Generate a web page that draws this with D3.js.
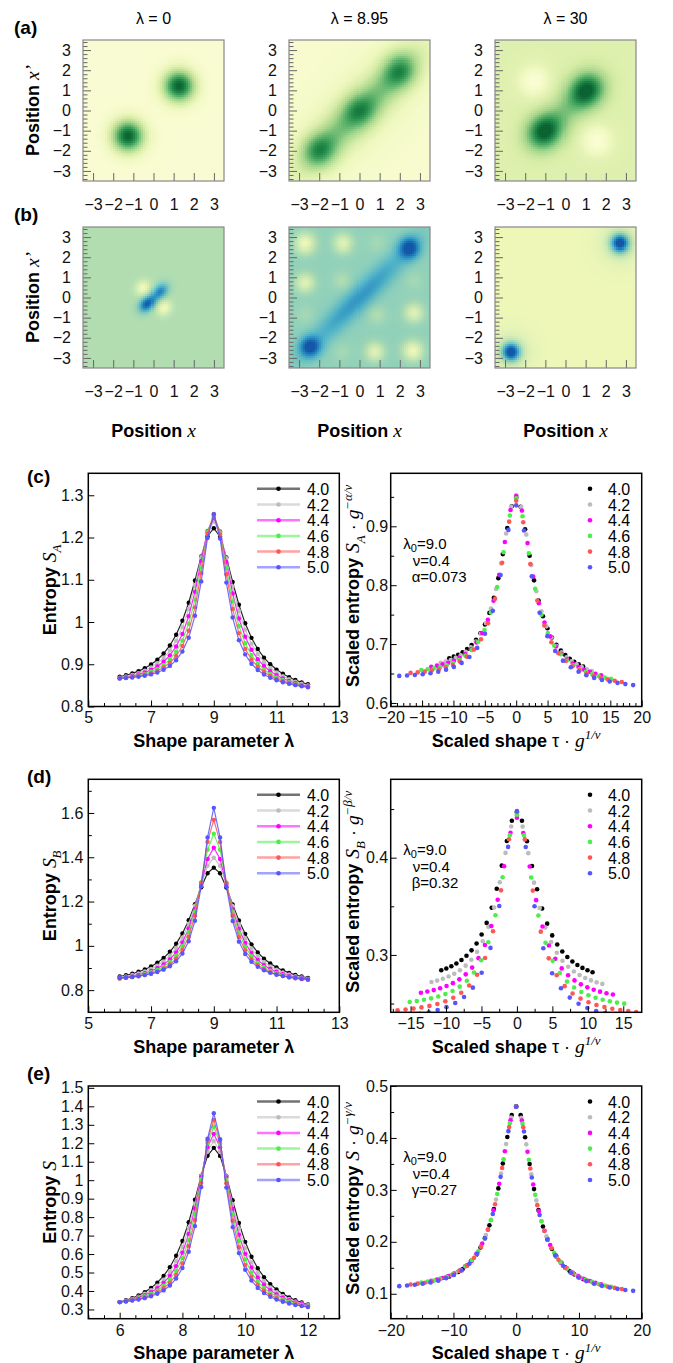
<!DOCTYPE html>
<html><head><meta charset="utf-8">
<script src="https://cdn.jsdelivr.net/npm/d3@7"></script>
<style>body{margin:0;background:#fff;}svg{display:block;}</style>
</head><body>
<svg id="fig" width="673" height="1363"></svg>
<script>
// ---------------- DATA ----------------
const heatTitles = ["λ = 0", "λ = 8.95", "λ = 30"];
const heatTicks = [-3, -2, -1, 0, 1, 2, 3];
// density maps: background level + blobs [x, x', width along diagonal, width across diagonal, height]
const rhoBase = [0.03, 0.05, 0.25];
const rhoBlobs = [
  [[1.25, 1.25, 0.58, 0.58, 0.97], [-1.25, -1.25, 0.58, 0.58, 0.97]],
  [[0, 0, 2.7, 0.65, 0.45], [-2, -2, 0.62, 0.6, 0.48], [0, 0, 0.55, 0.55, 0.28], [2, 2, 0.62, 0.6, 0.48], [0, 0, 3.6, 1.4, 0.14]],
  [[1.05, 1.05, 0.66, 0.6, 0.7], [-1.05, -1.05, 0.66, 0.6, 0.7], [0, 0, 1.2, 0.55, 0.25],
   [-1.55, 1.5, 0.5, 0.5, -0.24], [1.55, -1.5, 0.5, 0.5, -0.24]]
];
const corrBase = [0.42, 0.52, 0.12];
const corrBlobs = [
  [[-0.3, -0.3, 0.33, 0.24, 0.56], [0.32, 0.32, 0.33, 0.24, 0.42], [-0.5, 0.5, 0.28, 0.25, -0.32], [0.5, -0.5, 0.28, 0.25, -0.32]],
  [[0, 0, 2.6, 0.42, 0.27], [2.47, 2.47, 0.36, 0.36, 0.46], [-2.45, -2.45, 0.36, 0.36, 0.46],
   [-2.7, 2.7, 0.34, 0.34, -0.4], [-2.7, 0.75, 0.32, 0.32, -0.32], [-0.8, 2.7, 0.32, 0.32, -0.32],
   [2.7, -0.75, 0.32, 0.32, -0.32], [0.75, -2.7, 0.32, 0.32, -0.32], [2.65, -2.65, 0.34, 0.34, -0.4],
   [-0.85, 0.85, 0.32, 0.32, -0.1], [0.85, -0.85, 0.32, 0.32, -0.1],
   [-2.7, -0.85, 0.32, 0.32, -0.06], [-0.85, -2.7, 0.32, 0.32, -0.06], [0.85, 2.7, 0.32, 0.32, -0.06], [2.7, 0.85, 0.32, 0.32, -0.06]],
  [[2.7, 2.7, 0.35, 0.35, 0.85], [-2.7, -2.7, 0.35, 0.35, 0.85], [2.7, 2.7, 0.8, 0.8, 0.12], [-2.7, -2.7, 0.8, 0.8, 0.12]]
];
const rhoStops = [0, 0.15, 0.3, 0.5, 0.7, 0.85, 1];
const rhoColors = ["#fcfdd6", "#eff8c0", "#d6eca6", "#a2d48b", "#52ad66", "#228a49", "#0b6332"];
const corrStops = [0, 0.12, 0.3, 0.42, 0.55, 0.7, 0.85, 1];
const corrColors = ["#fdfed9", "#eef7b8", "#cbe9b4", "#b1ddb1", "#88cdbc", "#4fb2c8", "#2385bf", "#1457a6"];

const gLabels = ["4.0", "4.2", "4.4", "4.6", "4.8", "5.0"];
const gValues = [4.0, 4.2, 4.4, 4.6, 4.8, 5.0];
const seriesColors = ["#000000", "#bcbcbc", "#ff00ff", "#4cee4c", "#ff5656", "#5656ff"];
const lambdaValues = [6.0,6.2,6.4,6.6,6.8,7.0,7.2,7.4,7.6,7.8,8.0,8.2,8.4,8.6,8.8,9.0,9.2,9.4,9.6,9.8,10.0,10.2,10.4,10.6,10.8,11.0,11.2,11.4,11.6,11.8,12.0];
const SA = [
  [0.8705,0.8740,0.8783,0.8838,0.8907,0.8994,0.9107,0.9253,0.9445,0.9697,1.0029,1.0457,1.0983,1.1552,1.2031,1.2220,1.2019,1.1528,1.0947,1.0409,0.9969,0.9625,0.9361,0.9157,0.8999,0.8874,0.8775,0.8694,0.8627,0.8572,0.8525],
  [0.8681,0.8709,0.8745,0.8791,0.8849,0.8924,0.9022,0.9151,0.9324,0.9559,0.9879,1.0311,1.0875,1.1536,1.2131,1.2380,1.2119,1.1512,1.0839,1.0263,0.9819,0.9487,0.9240,0.9055,0.8914,0.8804,0.8717,0.8647,0.8589,0.8541,0.8501],
  [0.8670,0.8693,0.8721,0.8757,0.8804,0.8867,0.8949,0.9059,0.9211,0.9420,0.9716,1.0136,1.0714,1.1446,1.2156,1.2470,1.2144,1.1420,1.0676,1.0084,0.9652,0.9344,0.9121,0.8957,0.8833,0.8739,0.8664,0.8603,0.8555,0.8513,0.8478],
  [0.8665,0.8682,0.8704,0.8733,0.8772,0.8822,0.8890,0.8983,0.9113,0.9297,0.9564,0.9957,1.0529,1.1309,1.2131,1.2520,1.2117,1.1283,1.0489,0.9905,0.9498,0.9217,0.9021,0.8877,0.8772,0.8690,0.8626,0.8575,0.8532,0.8498,0.8467],
  [0.8668,0.8680,0.8697,0.8720,0.8750,0.8791,0.8847,0.8925,0.9036,0.9195,0.9431,0.9792,1.0347,1.1157,1.2088,1.2560,1.2074,1.1129,1.0307,0.9738,0.9363,0.9113,0.8940,0.8817,0.8725,0.8655,0.8600,0.8556,0.8521,0.8490,0.8464],
  [0.8665,0.8674,0.8687,0.8704,0.8727,0.8760,0.8806,0.8870,0.8961,0.9096,0.9303,0.9626,1.0147,1.0961,1.1991,1.2550,1.1977,1.0933,1.0105,0.9570,0.9233,0.9012,0.8863,0.8758,0.8680,0.8620,0.8573,0.8536,0.8505,0.8478,0.8455]
];
const SB = [
  [0.8615,0.8671,0.8742,0.8829,0.8935,0.9068,0.9237,0.9452,0.9731,1.0093,1.0563,1.1159,1.1878,1.2644,1.3279,1.3530,1.3275,1.2636,1.1866,1.1143,1.0543,1.0069,0.9703,0.9420,0.9201,0.9028,0.8891,0.8781,0.8690,0.8615,0.8555],
  [0.8577,0.8624,0.8683,0.8755,0.8846,0.8960,0.9108,0.9300,0.9556,0.9900,1.0366,1.0995,1.1811,1.2763,1.3619,1.3980,1.3615,1.2755,1.1799,1.0979,1.0346,0.9876,0.9528,0.9268,0.9072,0.8920,0.8802,0.8707,0.8631,0.8568,0.8517],
  [0.8544,0.8584,0.8632,0.8692,0.8768,0.8865,0.8993,0.9161,0.9389,0.9706,1.0151,1.0785,1.1669,1.2799,1.3923,1.4430,1.3919,1.2791,1.1657,1.0769,1.0131,0.9682,0.9361,0.9129,0.8957,0.8825,0.8724,0.8644,0.8580,0.8528,0.8484],
  [0.8531,0.8564,0.8605,0.8656,0.8721,0.8805,0.8915,0.9064,0.9269,0.9560,0.9983,1.0613,1.1555,1.2876,1.4341,1.5060,1.4337,1.2868,1.1543,1.0597,0.9963,0.9536,0.9241,0.9032,0.8879,0.8765,0.8677,0.8608,0.8553,0.8508,0.8471],
  [0.8525,0.8553,0.8586,0.8629,0.8684,0.8755,0.8850,0.8979,0.9160,0.9421,0.9810,1.0414,1.1374,1.2851,1.4693,1.5690,1.4689,1.2843,1.1362,1.0398,0.9790,0.9397,0.9132,0.8947,0.8814,0.8715,0.8640,0.8581,0.8534,0.8497,0.8465],
  [0.8548,0.8570,0.8598,0.8633,0.8679,0.8738,0.8817,0.8926,0.9080,0.9306,0.9652,1.0206,1.1134,1.2693,1.4897,1.6230,1.4893,1.2685,1.1122,1.0190,0.9632,0.9282,0.9052,0.8894,0.8781,0.8698,0.8635,0.8585,0.8546,0.8514,0.8488]
];
const S = [
  [0.3400,0.3498,0.3615,0.3760,0.3940,0.4166,0.4452,0.4817,0.5290,0.5906,0.6705,0.7719,0.8941,1.0245,1.1323,1.1750,1.1315,1.0227,0.8915,0.7685,0.6661,0.5854,0.5230,0.4747,0.4374,0.4080,0.3844,0.3656,0.3503,0.3376,0.3270],
  [0.3400,0.3480,0.3576,0.3698,0.3850,0.4042,0.4290,0.4613,0.5040,0.5613,0.6383,0.7411,0.8726,1.0234,1.1566,1.2120,1.1556,1.0212,0.8694,0.7369,0.6329,0.5549,0.4966,0.4527,0.4194,0.3936,0.3732,0.3570,0.3438,0.3330,0.3240],
  [0.3400,0.3466,0.3547,0.3647,0.3776,0.3940,0.4154,0.4438,0.4820,0.5345,0.6076,0.7093,0.8475,1.0178,1.1801,1.2510,1.1789,1.0152,0.8437,0.7043,0.6012,0.5269,0.4732,0.4336,0.4040,0.3814,0.3636,0.3495,0.3383,0.3288,0.3210],
  [0.3400,0.3454,0.3520,0.3605,0.3713,0.3852,0.4036,0.4284,0.4622,0.5097,0.5778,0.6765,0.8179,1.0054,1.1991,1.2890,1.1977,1.0024,0.8135,0.6707,0.5704,0.5009,0.4520,0.4166,0.3904,0.3706,0.3551,0.3429,0.3330,0.3248,0.3180],
  [0.3400,0.3444,0.3497,0.3568,0.3658,0.3775,0.3934,0.4148,0.4445,0.4872,0.5497,0.6436,0.7851,0.9867,1.2136,1.3260,1.2120,0.9833,0.7801,0.6370,0.5413,0.4772,0.4329,0.4014,0.3784,0.3609,0.3474,0.3368,0.3281,0.3210,0.3150],
  [0.3399,0.3434,0.3479,0.3537,0.3613,0.3713,0.3848,0.4033,0.4295,0.4673,0.5242,0.6123,0.7515,0.9635,1.2241,1.3630,1.2223,0.9599,0.7461,0.6051,0.5152,0.4565,0.4169,0.3889,0.3686,0.3533,0.3415,0.3321,0.3245,0.3182,0.3129]
];
const lambda0 = 9.0, nu = 0.4;
const exponents = [0.073, 0.32, 0.27];          // α, β, γ
const exponentNames = ["α", "β", "γ"];

// ---------------- DRAWING ----------------
const FONT = '"Liberation Sans", Arial, Helvetica, sans-serif';
const SERIF = '"Liberation Serif", "Times New Roman", serif';
const svg = d3.select("#fig").attr("font-family", FONT);

function rich(parent, x, y, parts, o = {}) {
  const size = o.size || 18;
  const t = parent.append("text").attr("x", x).attr("y", y)
    .attr("font-size", size).attr("font-weight", o.weight || "bold")
    .attr("text-anchor", o.anchor || "middle").attr("fill", "#000");
  if (o.rotate) t.attr("transform", `rotate(-90 ${x} ${y})`);
  let shift = 0;
  parts.forEach(p => {
    const target = p.sub ? size * 0.28 : p.sup ? -size * 0.42 : 0;
    const sp = t.append("tspan").text(p.t);
    if (target !== shift) sp.attr("dy", target - shift);
    shift = target;
    if (p.it) sp.attr("font-family", SERIF).attr("font-style", "italic").attr("font-weight", "normal");
    if (p.sub || p.sup) sp.attr("font-size", size * 0.72);
    else if (p.it) sp.attr("font-size", size * 1.08);
    if (p.normal) sp.attr("font-weight", "normal");
  });
  return t;
}

function styleAxis(a, color) {
  a.select(".domain").remove();
  a.attr("font-size", 16).attr("font-family", FONT);
  a.selectAll("line").attr("stroke", color);
  a.selectAll("text").attr("fill", "#111");
}

// ---- heatmaps ----
const HS = 141, heatX = [83, 289, 495], heatY = [40, 227], NC = 70;
const cellCenters = d3.range(NC).map(i => -3.5 + (i + 0.5) * 7 / NC);
function field(base, blobs, x, y) {
  let v = base;
  for (const [cx, cy, sa, sc, a] of blobs) {
    const dx = x - cx, dy = y - cy;
    const u = (dx + dy) / Math.SQRT2, w = (dy - dx) / Math.SQRT2;
    v += a * Math.exp(-(u * u / (2 * sa * sa) + w * w / (2 * sc * sc)));
  }
  return Math.max(0, Math.min(1, v));
}
const rhoColor = d3.scaleLinear().domain(rhoStops).range(rhoColors);
const corrColor = d3.scaleLinear().domain(corrStops).range(corrColors);

function heatmap(row, col, base, blobs, color) {
  const x0 = heatX[col], y0 = heatY[row];
  const xs = d3.scaleLinear().domain([-3.5, 3.5]).range([x0, x0 + HS]);
  const ys = d3.scaleLinear().domain([-3.5, 3.5]).range([y0 + HS, y0]);
  const cells = [];
  cellCenters.forEach(xv => cellCenters.forEach(yv => cells.push({ x: xv, y: yv, v: field(base, blobs, xv, yv) })));
  const h = 3.5 / NC;
  const g = svg.append("g");
  g.selectAll("rect").data(cells).join("rect")
    .attr("x", d => xs(d.x - h)).attr("y", d => ys(d.y + h))
    .attr("width", d => xs(d.x + h) - xs(d.x - h) + 0.35)
    .attr("height", d => ys(d.y - h) - ys(d.y + h) + 0.35)
    .attr("fill", d => color(d.v)).attr("shape-rendering", "crispEdges");
  const minor = d3.range(-3.4, 3.41, 0.2).filter(v => Math.abs(v - Math.round(v)) > 0.05);
  const ax1 = g.append("g").attr("transform", `translate(${x0},0)`)
    .call(d3.axisLeft(ys).tickValues(heatTicks).tickSize(-8).tickPadding(12).tickFormat(d3.format("d")));
  styleAxis(ax1, "#666");
  const ax2 = g.append("g").attr("transform", `translate(${x0},0)`)
    .call(d3.axisLeft(ys).tickValues(minor).tickSize(-4.5).tickFormat(""));
  styleAxis(ax2, "#666");
  const ax3 = g.append("g").attr("transform", `translate(0,${y0 + HS})`)
    .call(d3.axisBottom(xs).tickValues(heatTicks).tickSize(-8).tickPadding(17.5).tickFormat(d3.format("d")));
  styleAxis(ax3, "#666");
  g.append("rect").attr("x", x0).attr("y", y0).attr("width", HS).attr("height", HS)
    .attr("fill", "none").attr("stroke", "#888").attr("stroke-width", 1.2);
}
for (let c = 0; c < 3; c++) {
  heatmap(0, c, rhoBase[c], rhoBlobs[c], rhoColor);
  heatmap(1, c, corrBase[c], corrBlobs[c], corrColor);
  svg.append("text").attr("x", heatX[c] + HS / 2).attr("y", 24).attr("text-anchor", "middle")
    .attr("font-size", 16).text(heatTitles[c]);
  rich(svg, heatX[c] + HS / 2, 437, [{ t: "Position " }, { t: "x", it: true }]);
}
for (let r = 0; r < 2; r++)
  rich(svg, 39, heatY[r] + HS / 2, [{ t: "Position " }, { t: "x’", it: true }], { rotate: true });

const panelLabels = [["(a)", 14, 34], ["(b)", 14, 221], ["(c)", 27, 483], ["(d)", 27, 783], ["(e)", 27, 1080]];
panelLabels.forEach(([t, x, y]) => svg.append("text").attr("x", x).attr("y", y)
  .attr("font-size", 19).attr("font-weight", "bold").text(t));

// ---- line panels ----
const PW = 251, leftX = [88.3, 390.7];
const rowsTop = [473.3, 779.3, 1086], rowsBot = [706.5, 1012.3, 1318.7];
const rawData = [SA, SB, S];
const subNames = ["A", "B", null];
const leftY = [[0.8, 1.352], [0.7, 1.752], [0.25, 1.51]];
const rightX = [[-20, 20], [-17.8, 17.6], [-20, 20]];
const rightY = [[0.594, 0.99], [0.241, 0.4806], [0.052, 0.5]];
const leftYMajor = [[0.8, 0.9, 1, 1.1, 1.2, 1.3], [0.8, 1, 1.2, 1.4, 1.6], d3.range(3, 15.1, 1).map(v => v / 10)];
const leftYMinor = [[], [0.9, 1.1, 1.3, 1.5, 1.7], []];
const leftXMajor = [[5, 7, 9, 11, 13], [5, 7, 9, 11, 13], [6, 8, 10, 12]];
const rightXMajor = [d3.range(-20, 21, 5), [-15, -10, -5, 0, 5, 10, 15], [-20, -10, 0, 10, 20]];
const rightXMinorStep = [1, 2.5, 2.5];
const rightYMajor = [[0.6, 0.7, 0.8, 0.9], [0.3, 0.4], [0.1, 0.2, 0.3, 0.4, 0.5]];
const rightYMinor = [[0.65, 0.75, 0.85, 0.95], [0.25, 0.35, 0.45], [0.15, 0.25, 0.35, 0.45]];
const numFmt = d => String(+(+d).toFixed(2)).replace("-", "−");

function frameAxes(g, xs, ys, top, bot, left, xMaj, xMin, yMaj, yMin, yPad) {
  const add = (gen, tr) => { const a = g.append("g").attr("transform", tr).call(gen); styleAxis(a, "#000"); return a; };
  add(d3.axisBottom(xs).tickValues(xMaj).tickSize(-6).tickPadding(5.6).tickFormat(numFmt), `translate(0,${bot})`);
  add(d3.axisBottom(xs).tickValues(xMin).tickSize(-3.5).tickFormat(""), `translate(0,${bot})`);
  add(d3.axisLeft(ys).tickValues(yMaj).tickSize(-6).tickPadding(yPad).tickFormat(numFmt), `translate(${left},0)`);
  if (yMin.length) add(d3.axisLeft(ys).tickValues(yMin).tickSize(-3.5).tickFormat(""), `translate(${left},0)`);
  g.append("rect").attr("x", left).attr("y", top).attr("width", PW).attr("height", bot - top)
    .attr("fill", "none").attr("stroke", "#000").attr("stroke-width", 1.5);
}

for (let p = 0; p < 3; p++) {
  const top = rowsTop[p], bot = rowsBot[p];
  const data = rawData[p];
  // left: raw entropy
  {
    const left = leftX[0];
    const g = svg.append("g");
    const xs = d3.scaleLinear().domain([5, 13]).range([left, left + PW]);
    const ys = d3.scaleLinear().domain(leftY[p]).range([bot, top]);
    const xMin = d3.range(5, 13.01, 0.5).filter(v => !leftXMajor[p].includes(v));
    const clipId = "cl" + p;
    g.append("clipPath").attr("id", clipId).append("rect").attr("x", left).attr("y", top).attr("width", PW).attr("height", bot - top);
    const dg = g.append("g").attr("clip-path", `url(#${clipId})`);
    const line = d3.line().x((d, i) => xs(lambdaValues[i])).y(d => ys(d));
    data.forEach((ser, k) => {
      dg.append("path").attr("d", line(ser)).attr("fill", "none").attr("stroke", seriesColors[k]).attr("stroke-width", 1.2).attr("stroke-opacity", 0.85);
      dg.selectAll(null).data(ser).join("circle").attr("cx", (d, i) => xs(lambdaValues[i])).attr("cy", d => ys(d))
        .attr("r", 2.2).attr("fill", seriesColors[k]);
    });
    frameAxes(g, xs, ys, top, bot, left, leftXMajor[p], xMin, leftYMajor[p], leftYMinor[p], 5);
    gLabels.forEach((lab, k) => {
      const yy = top + 15.5 + k * 15.7;
      g.append("line").attr("x1", 257).attr("x2", 300).attr("y1", yy).attr("y2", yy)
        .attr("stroke", seriesColors[k]).attr("stroke-width", 2.5).attr("stroke-opacity", 0.55);
      g.append("circle").attr("cx", 278.5).attr("cy", yy).attr("r", 2.3).attr("fill", seriesColors[k]);
      g.append("text").attr("x", 307).attr("y", yy + 6).attr("font-size", 16).text(lab);
    });
    const yParts = [{ t: "Entropy " }, { t: "S", it: true }];
    if (subNames[p]) yParts.push({ t: subNames[p], it: true, sub: true });
    rich(svg, 56, (top + bot) / 2, yParts, { rotate: true });
    rich(svg, left + PW / 2, bot + 40.5, [{ t: "Shape parameter λ" }]);
  }
  // right: scaled entropy
  {
    const left = leftX[1];
    const g = svg.append("g");
    const xs = d3.scaleLinear().domain(rightX[p]).range([left, left + PW]);
    const ys = d3.scaleLinear().domain(rightY[p]).range([bot, top]);
    const st = rightXMinorStep[p];
    const xMin = d3.range(Math.ceil(rightX[p][0] / st) * st, rightX[p][1] + 0.001, st)
      .filter(v => !rightXMajor[p].some(m => Math.abs(m - v) < 1e-6));
    const clipId = "cr" + p;
    g.append("clipPath").attr("id", clipId).append("rect").attr("x", left).attr("y", top).attr("width", PW).attr("height", bot - top);
    const dg = g.append("g").attr("clip-path", `url(#${clipId})`);
    data.forEach((ser, k) => {
      const gv = gValues[k];
      const pts = ser.map((s, i) => ({
        x: (lambdaValues[i] - lambda0) / lambda0 * Math.pow(gv, 1 / nu),
        y: s * Math.pow(gv, -exponents[p] / nu)
      }));
      dg.selectAll(null).data(pts).join("circle").attr("cx", d => xs(d.x)).attr("cy", d => ys(d.y))
        .attr("r", 2.3).attr("fill", seriesColors[k]);
    });
    frameAxes(g, xs, ys, top, bot, left, rightXMajor[p], xMin, rightYMajor[p], rightYMinor[p], 2.5);
    gLabels.forEach((lab, k) => {
      const yy = top + 15.5 + k * 15.7;
      g.append("circle").attr("cx", 590).attr("cy", yy).attr("r", 2.3).attr("fill", seriesColors[k]);
      g.append("text").attr("x", 608).attr("y", yy + 6).attr("font-size", 16).text(lab);
    });
    // annotation
    const a1 = g.append("text").attr("x", 403.3).attr("y", top + 76).attr("font-size", 15);
    a1.append("tspan").text("λ");
    a1.append("tspan").text("0").attr("font-size", 11).attr("dy", 3);
    a1.append("tspan").text("=" + lambda0.toFixed(1)).attr("dy", -3);
    g.append("text").attr("x", 412.7).attr("y", top + 92.5).attr("font-size", 15).text("ν=" + nu);
    g.append("text").attr("x", 411.7).attr("y", top + 108.5).attr("font-size", 15).text(exponentNames[p] + "=" + exponents[p]);
    const yParts = [{ t: "Scaled entropy " }, { t: "S", it: true }];
    if (subNames[p]) yParts.push({ t: subNames[p], it: true, sub: true });
    yParts.push({ t: " · ", normal: true }, { t: "g", it: true }, { t: "−" + exponentNames[p] + "/ν", it: true, sup: true });
    rich(svg, 359.5, (top + bot) / 2 - 4, yParts, { rotate: true });
    rich(svg, left + PW / 2, bot + 40.5, [{ t: "Scaled shape " }, { t: "τ", normal: true }, { t: " · ", normal: true }, { t: "g", it: true }, { t: "1/ν", it: true, sup: true }]);
  }
}
</script>
</body></html>
